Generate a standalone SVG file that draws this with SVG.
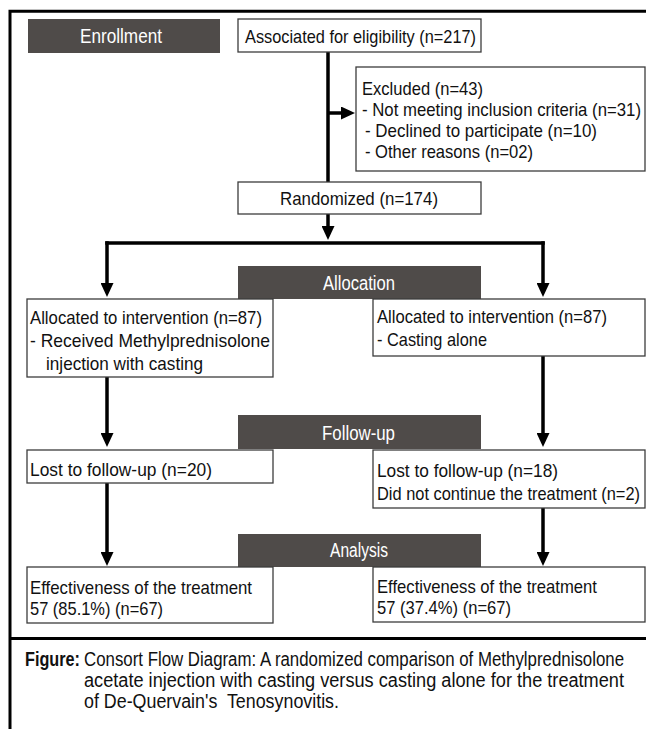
<svg xmlns="http://www.w3.org/2000/svg" width="646" height="729" viewBox="0 0 646 729">
<defs>
<style>
.bx{fill:#fff;stroke:#3c3c3c;stroke-width:1.3}
.bar{fill:#4f4b49}
.t{font-family:"Liberation Sans",Arial,sans-serif;font-size:19px;fill:#111}
.bt{font-family:"Liberation Sans",Arial,sans-serif;font-size:19.5px;fill:#fff}
.ct{font-family:"Liberation Sans",Arial,sans-serif;font-size:19.5px;fill:#111}
.cb{font-weight:bold}
.ln{stroke:#000;stroke-width:3.5;fill:none}
.ar{stroke:#000;stroke-width:3.5;fill:none;marker-end:url(#ah)}
.fr{stroke:#000;stroke-width:3;fill:none}
</style>
<marker id="ah" markerUnits="userSpaceOnUse" markerWidth="14" markerHeight="13" refX="9" refY="6.5" orient="auto">
<path d="M0,0 L14,6.5 L0,13 Z" fill="#000"/>
</marker>
</defs>
<rect width="646" height="729" fill="#fff"/>
<g id="frame">
<path class="fr" d="M10,729 V11.3 H646"/>
<path class="fr" d="M10,638.5 H646"/>
</g>
<g id="enrollment">
<rect class="bar" x="28" y="19" width="192" height="34"/>
<text class="bt" x="80" y="43.3" textLength="82" lengthAdjust="spacingAndGlyphs">Enrollment</text>
</g>
<g id="allocation">
<rect class="bar" x="238" y="266" width="243" height="33"/>
<text class="bt" x="323" y="290" textLength="72" lengthAdjust="spacingAndGlyphs">Allocation</text>
</g>
<g id="followup">
<rect class="bar" x="238" y="415" width="243" height="34"/>
<text class="bt" x="322" y="440" textLength="73" lengthAdjust="spacingAndGlyphs">Follow-up</text>
</g>
<g id="analysis">
<rect class="bar" x="238" y="534" width="243" height="33"/>
<text class="bt" x="330" y="557.3" textLength="58" lengthAdjust="spacingAndGlyphs">Analysis</text>
</g>
<g id="connectors">
<line class="ln" x1="328" y1="52" x2="328" y2="182"/>
<line class="ar" x1="328" y1="113" x2="350" y2="113"/>
<line class="ar" x1="328" y1="214" x2="328" y2="235"/>
<path class="ln" d="M107,243 H543" stroke-linecap="square"/>
<line class="ar" x1="107" y1="241.25" x2="107" y2="292"/>
<line class="ar" x1="543" y1="241.25" x2="543" y2="292"/>
<line class="ar" x1="107" y1="377" x2="107" y2="442"/>
<line class="ar" x1="543" y1="356" x2="543" y2="442"/>
<line class="ar" x1="107" y1="483" x2="107" y2="561"/>
<line class="ar" x1="543" y1="508" x2="543" y2="561"/>
</g>
<g id="associated">
<rect class="bx" x="238" y="19" width="243" height="33"/>
<text class="t" x="245" y="42.7" textLength="231" lengthAdjust="spacingAndGlyphs">Associated for eligibility (n=217)</text>
</g>
<g id="excluded">
<rect class="bx" x="356" y="67" width="289" height="104"/>
<text class="t" x="362" y="94.5" textLength="121" lengthAdjust="spacingAndGlyphs">Excluded (n=43)</text>
<text class="t" x="362" y="115.5" textLength="279" lengthAdjust="spacingAndGlyphs">- Not meeting inclusion criteria (n=31)</text>
<text class="t" x="365" y="137" textLength="232" lengthAdjust="spacingAndGlyphs">- Declined to participate (n=10)</text>
<text class="t" x="365" y="158" textLength="168" lengthAdjust="spacingAndGlyphs">- Other reasons (n=02)</text>
</g>
<g id="randomized">
<rect class="bx" x="238" y="182" width="243" height="32"/>
<text class="t" x="280" y="205" textLength="158" lengthAdjust="spacingAndGlyphs">Randomized (n=174)</text>
</g>
<g id="alloc-left">
<rect class="bx" x="27" y="299" width="246" height="78"/>
<text class="t" x="30" y="324" textLength="232" lengthAdjust="spacingAndGlyphs">Allocated to intervention (n=87)</text>
<text class="t" x="30" y="347" textLength="240" lengthAdjust="spacingAndGlyphs">- Received Methylprednisolone</text>
<text class="t" x="46" y="370" textLength="157" lengthAdjust="spacingAndGlyphs">injection with casting</text>
</g>
<g id="alloc-right">
<rect class="bx" x="373" y="299" width="272" height="57"/>
<text class="t" x="377" y="323" textLength="230" lengthAdjust="spacingAndGlyphs">Allocated to intervention (n=87)</text>
<text class="t" x="377" y="346" textLength="110" lengthAdjust="spacingAndGlyphs">- Casting alone</text>
</g>
<g id="lost-left">
<rect class="bx" x="27" y="450" width="246" height="33"/>
<text class="t" x="30" y="476" textLength="182" lengthAdjust="spacingAndGlyphs">Lost to follow-up (n=20)</text>
</g>
<g id="lost-right">
<rect class="bx" x="373" y="450" width="272" height="58"/>
<text class="t" x="377" y="477" textLength="181" lengthAdjust="spacingAndGlyphs">Lost to follow-up (n=18)</text>
<text class="t" x="377" y="500" textLength="263" lengthAdjust="spacingAndGlyphs">Did not continue the treatment (n=2)</text>
</g>
<g id="eff-left">
<rect class="bx" x="27" y="567" width="246" height="56"/>
<text class="t" x="30" y="594" textLength="222" lengthAdjust="spacingAndGlyphs">Effectiveness of the treatment</text>
<text class="t" x="30" y="615" textLength="133" lengthAdjust="spacingAndGlyphs">57 (85.1%) (n=67)</text>
</g>
<g id="eff-right">
<rect class="bx" x="373" y="567" width="272" height="55"/>
<text class="t" x="377" y="593" textLength="220" lengthAdjust="spacingAndGlyphs">Effectiveness of the treatment</text>
<text class="t" x="377" y="614" textLength="134" lengthAdjust="spacingAndGlyphs">57 (37.4%) (n=67)</text>
</g>
<g id="caption">
<text class="ct cb" x="25" y="666" textLength="55" lengthAdjust="spacingAndGlyphs">Figure:</text>
<text class="ct" x="84" y="666" textLength="540" lengthAdjust="spacingAndGlyphs">Consort Flow Diagram: A randomized comparison of Methylprednisolone</text>
<text class="ct" x="84" y="687" textLength="540" lengthAdjust="spacingAndGlyphs">acetate injection with casting versus casting alone for the treatment</text>
<text class="ct" x="84" y="707.5" textLength="255" lengthAdjust="spacingAndGlyphs" xml:space="preserve">of De-Quervain's  Tenosynovitis.</text>
</g>
</svg>
